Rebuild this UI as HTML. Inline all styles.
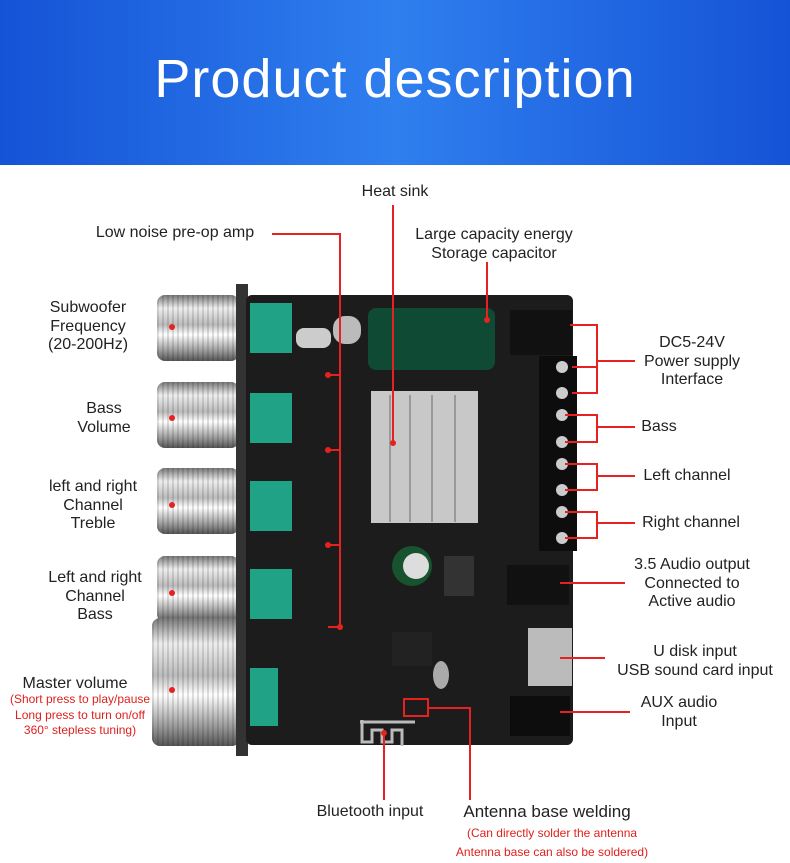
<!DOCTYPE html>
<html><head><style>
body{margin:0;width:790px;height:863px;background:#fff;position:relative;overflow:hidden;font-family:"Liberation Sans",sans-serif;}
.hdr{position:absolute;left:0;top:0;width:790px;height:165px;background:linear-gradient(90deg,#1553d6,#2f7fef 50%,#1553d6);}
.hdr div{position:absolute;width:100%;top:48px;text-align:center;color:#fff;font-size:54px;letter-spacing:1px;}
.t{position:absolute;font-size:16px;color:#222;text-align:center;line-height:18.5px;white-space:nowrap;transform:translateX(-50%);}
.r{position:absolute;font-size:12px;color:#e0201c;text-align:center;line-height:15.5px;white-space:nowrap;transform:translateX(-50%);}
.k{position:absolute;border-radius:8px;background:linear-gradient(180deg,#777,#eee 20%,#bbb 45%,#fff 60%,#999 85%,#555);}
.k:before{content:"";position:absolute;left:0;top:0;bottom:0;width:100%;background:repeating-linear-gradient(90deg,rgba(0,0,0,.12) 0 2px,transparent 2px 5px);border-radius:8px;}
</style></head><body>
<div class="hdr"><div>Product description</div></div>

<!-- knobs -->
<div class="k" style="left:157px;top:295px;width:82px;height:66px"></div>
<div class="k" style="left:157px;top:382px;width:82px;height:66px"></div>
<div class="k" style="left:157px;top:468px;width:82px;height:66px"></div>
<div class="k" style="left:157px;top:556px;width:82px;height:66px"></div>
<div class="k" style="left:152px;top:618px;width:88px;height:128px"></div>
<div style="position:absolute;left:236px;top:284px;width:12px;height:472px;background:#333"></div>

<svg width="790" height="863" style="position:absolute;left:0;top:0">
<rect x="246" y="295" width="327" height="450" rx="6" fill="#1c1c1c"/>
<g fill="#1fa285">
<rect x="250" y="303" width="42" height="50"/><rect x="250" y="393" width="42" height="50"/><rect x="250" y="481" width="42" height="50"/><rect x="250" y="569" width="42" height="50"/><rect x="250" y="668" width="28" height="58"/>
</g>
<rect x="368" y="308" width="127" height="62" rx="8" fill="#0f4a35"/>
<rect x="371" y="391" width="107" height="132" fill="#c8c8c8"/>
<g stroke="#999" stroke-width="2"><line x1="390" y1="395" x2="390" y2="522"/><line x1="410" y1="395" x2="410" y2="522"/><line x1="432" y1="395" x2="432" y2="522"/><line x1="455" y1="395" x2="455" y2="522"/></g>
<rect x="510" y="310" width="62" height="45" fill="#111"/>
<rect x="539" y="356" width="38" height="195" fill="#0d0d0d"/>
<g fill="#ccc"><circle cx="562" cy="367" r="6"/><circle cx="562" cy="393" r="6"/><circle cx="562" cy="415" r="6"/><circle cx="562" cy="442" r="6"/><circle cx="562" cy="464" r="6"/><circle cx="562" cy="490" r="6"/><circle cx="562" cy="512" r="6"/><circle cx="562" cy="538" r="6"/></g>
<circle cx="412" cy="566" r="20" fill="#16532e"/><circle cx="416" cy="566" r="13" fill="#ddd"/>
<rect x="444" y="556" width="30" height="40" fill="#333"/>
<rect x="507" y="565" width="62" height="40" fill="#111"/>
<rect x="528" y="628" width="44" height="58" fill="#bbb"/>
<rect x="510" y="696" width="60" height="40" fill="#0d0d0d"/>
<rect x="392" y="632" width="40" height="34" fill="#222"/>
<ellipse cx="441" cy="675" rx="8" ry="14" fill="#aaa"/>
<rect x="296" y="328" width="35" height="20" rx="8" fill="#ccc"/><rect x="333" y="316" width="28" height="28" rx="12" fill="#bbb"/>
<path d="M360 722 h55 M362 720 v22 h10 v-12 h10 v12 h10 v-12 h10 v16" stroke="#bbb" stroke-width="3" fill="none"/>
<g stroke="#e5221f" stroke-width="2" fill="none">
<path d="M272 234 H340 V627 M328 375 H340 M328 450 H340 M328 545 H340 M328 627 H340"/>
<path d="M393 205 V443"/><path d="M487 262 V320"/>
<path d="M570 325 H597 V393 H572 M597 361 H635 M572 367 H597"/>
<path d="M565 415 H597 V442 H565 M597 427 H635"/>
<path d="M565 464 H597 V490 H565 M597 476 H635"/>
<path d="M565 512 H597 V538 H565 M597 523 H635"/>
<path d="M560 583 H625"/><path d="M560 658 H605"/><path d="M560 712 H630"/>
<path d="M384 733 V800"/><path d="M428 708 H470 V800"/>
<rect x="404" y="699" width="24" height="17"/>
</g>
<g fill="#e5221f"><circle cx="328" cy="375" r="3"/><circle cx="328" cy="450" r="3"/><circle cx="328" cy="545" r="3"/><circle cx="340" cy="627" r="3"/><circle cx="393" cy="443" r="3"/><circle cx="487" cy="320" r="3"/><circle cx="384" cy="733" r="3"/>
<circle cx="172" cy="327" r="3"/><circle cx="172" cy="418" r="3"/><circle cx="172" cy="505" r="3"/><circle cx="172" cy="593" r="3"/><circle cx="172" cy="690" r="3"/></g>
</svg>

<div class="t" style="left:395px;top:183px">Heat sink</div>
<div class="t" style="left:175px;top:224px">Low noise pre-op amp</div>
<div class="t" style="left:494px;top:226px">Large capacity energy<br>Storage capacitor</div>
<div class="t" style="left:88px;top:299px">Subwoofer<br>Frequency<br>(20-200Hz)</div>
<div class="t" style="left:104px;top:400px">Bass<br>Volume</div>
<div class="t" style="left:93px;top:478px">left and right<br>Channel<br>Treble</div>
<div class="t" style="left:95px;top:569px">Left and right<br>Channel<br>Bass</div>
<div class="t" style="left:75px;top:675px">Master volume</div>
<div class="r" style="left:80px;top:692px">(Short press to play/pause<br>Long press to turn on/off<br>360° stepless tuning)</div>
<div class="t" style="left:692px;top:334px">DC5-24V<br>Power supply<br>Interface</div>
<div class="t" style="left:659px;top:418px">Bass</div>
<div class="t" style="left:687px;top:467px">Left channel</div>
<div class="t" style="left:691px;top:514px">Right channel</div>
<div class="t" style="left:692px;top:556px">3.5 Audio output<br>Connected to<br>Active audio</div>
<div class="t" style="left:695px;top:643px">U disk input<br>USB sound card input</div>
<div class="t" style="left:679px;top:694px">AUX audio<br>Input</div>
<div class="t" style="left:370px;top:803px">Bluetooth input</div>
<div class="t" style="left:547px;top:803px;font-size:17px">Antenna base welding</div>
<div class="r" style="left:552px;top:824px;line-height:19px">(Can directly solder the antenna<br>Antenna base can also be soldered)</div>
</body></html>
